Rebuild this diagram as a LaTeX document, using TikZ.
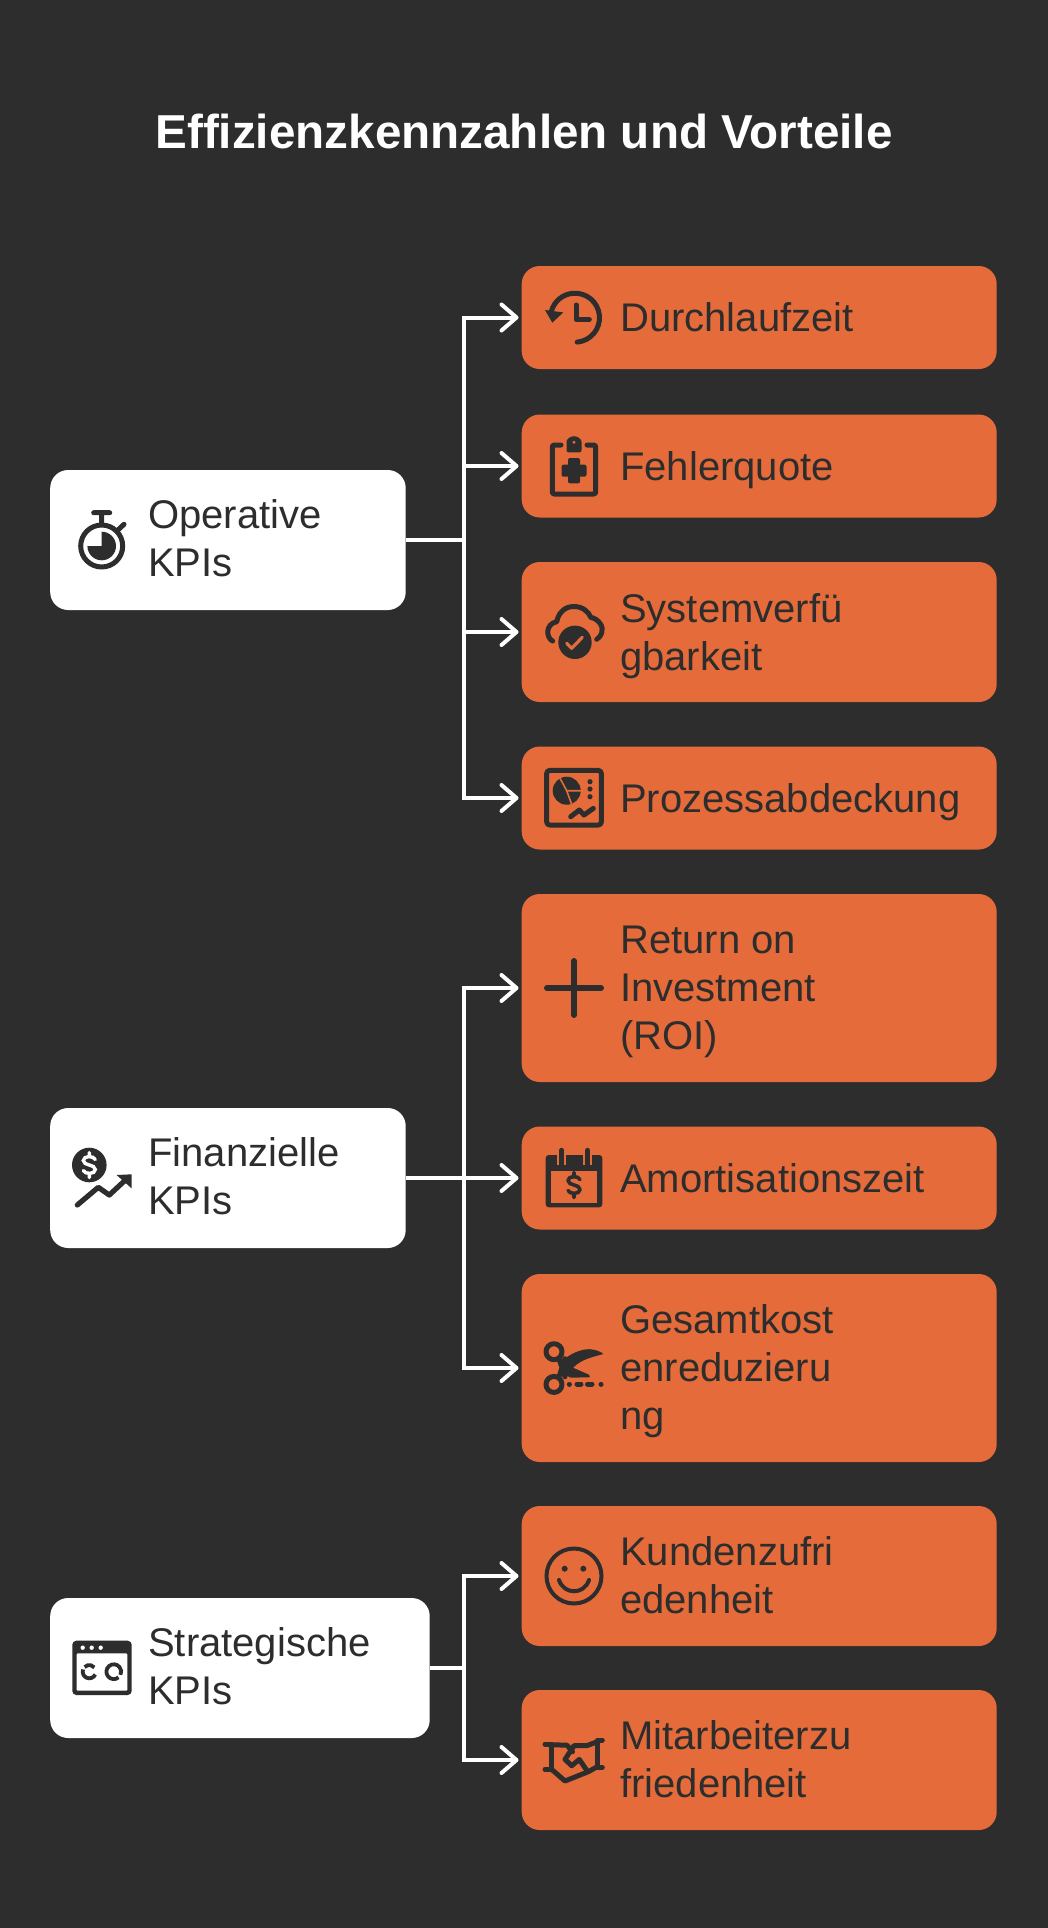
\documentclass[tikz,border=0pt]{standalone}
\usepackage{fontspec}
\setmainfont{Liberation Sans}
\usetikzlibrary{arrows.meta}
\definecolor{bgdark}{HTML}{2D2D2D}
\definecolor{ink}{HTML}{2D2D2D}
\definecolor{kidfill}{HTML}{E56C3A}
\newcommand{\dollarmark}{%
  (6,-5.5) .. controls (4.5,-9.5) and (-6,-9.5) .. (-6,-4.5) .. controls (-6,1) and (6,-1) .. (6,4.5) .. controls (6,9.5) and (-4.5,9.5) .. (-6,5.5)
  (0,-12.5) -- (0,-9.5) (0,9.5) -- (0,12.5)}
\tikzset{
  kid/.style={fill=kidfill, rounded corners=18pt, inner sep=0pt, anchor=west, minimum width=475pt},
  rootbox/.style={fill=white, rounded corners=18pt, inner sep=0pt, anchor=west},
  lab/.style={anchor=west, align=left, inner sep=0pt, text=ink, text depth=0pt, font=\fontsize{40}{48}\selectfont},
  link/.style={draw=white, line width=4pt},
  linkarr/.style={link, -{Straight Barb[length=15pt,width=26pt,round]}, shorten >=3pt},
  ic/.style={draw=ink, line width=5pt, line cap=round, line join=round},
  icon clock/.pic={
    \draw[ic] (0,0) ++(85:24.5) arc (85:-165:24.5);
    \fill[ink] (-30,-7.7) -- (-11.7,-5.3) -- (-22.7,5) -- cycle;
    \draw[ic] (1,-12.7) -- (1,1.7) -- (14.3,1.7);
  },
  icon board/.pic={
    \draw[ic, rounded corners=2pt] (-13,-21.7) -- (-21.7,-21.7) -- (-21.7,27.3) -- (21.7,27.3) -- (21.7,-21.7) -- (13,-21.7);
    \fill[ink, rounded corners=2pt] (-7.5,-14.3) -- (-7.5,-23) arc (180:360:7.5) -- (7.5,-14.3) -- cycle;
    \fill[kidfill] (0,-24.5) circle (1.7);
    \fill[ink, rounded corners=2pt] (-12.5,-2) rectangle (12.5,10);
    \fill[ink, rounded corners=2pt] (-6,-8.7) rectangle (6,16.7);
  },
  icon cloud/.pic={
    \draw[ic] (-21.3,11) .. controls (-28,8) and (-29,-6) .. (-17.3,-8.3) .. controls (-15,-20) and (-6,-24) .. (0,-23.3) .. controls (8,-24) and (15,-18) .. (16.7,-12.7) .. controls (25,-11) and (30,-3) .. (27.7,3) .. controls (26.5,6) and (25,8) .. (22.7,9.3);
    \fill[ink] (1,12.3) circle (16.7);
    \draw[kidfill, line width=3.2pt, line cap=round, line join=round] (-7.3,13.3) -- (-2.3,18.3) -- (8.3,7.3);
  },
  icon pie/.pic={
    \draw[ic, rounded corners=3pt] (-27.3,-27.3) rectangle (27.3,27.3);
    \fill[ink] (-7.3,-7) circle (14);
    \draw[kidfill, line width=1.6pt] (-14,-19.5) -- (-7.3,-7) -- (8,-7) (-7.3,-7) -- (-2,7.5);
    \fill[ink] (16,-16) circle (2.6) (16,-8.7) circle (2.6) (16,-1) circle (2.6);
    \draw[ic] (-3.3,19) -- (5.3,12.3) -- (10,17.3) -- (19.3,10.7);
  },
  icon plus/.pic={
    \draw[ic, line width=6pt] (-27,0) -- (27,0) (0,-27) -- (0,27);
  },
  icon calendar/.pic={
    \fill[ink, rounded corners=3pt] (-28.3,-23.3) rectangle (28.3,29);
    \fill[kidfill] (-23.3,-7.7) rectangle (23.3,24.3);
    \draw[kidfill, line width=8.5pt] (-12.3,-26) -- (-12.3,-13) (13.7,-26) -- (13.7,-13);
    \draw[ic] (-12.3,-28) -- (-12.3,-13) (13.7,-28) -- (13.7,-13);
    \draw[ic, line width=3.6pt, shift={(0,6.7)}] \dollarmark;
  },
  icon scissors/.pic={
    \draw[ic] (-20,-16) circle (8) (-20,16.7) circle (8);
    \draw[ic] (-15,-9) -- (-9,9) (-15,9) -- (-9,-9);
    \fill[ink] (-12,-6) .. controls (-5,-14) and (8,-19) .. (16,-18.5) .. controls (22,-18) and (27,-16) .. (29.3,-13.7) .. controls (20,-11) and (8,-9) .. (-1,0) -- (15,7) -- (16,9.5) -- (-3,10) -- (-12,6) -- cycle;
    \draw[ic, line width=5pt] (-4.7,16.3) -- +(.1,0) (3,16.3) -- (7,16.3) (13.5,16.3) -- (18,16.3) (27,16.3) -- +(.1,0);
  },
  icon smile/.pic={
    \draw[ink, line width=4pt] (0,0) circle (27.5);
    \fill[ink] (-9.3,-7.3) circle (3) (9.3,-7.3) circle (3);
    \draw[ink, line width=4pt, line cap=round] (-15,4) .. controls (-10,19) and (10,19) .. (15,4);
  },
  icon shake/.pic={
    \draw[ic] (-29,-16.7) -- (-22.3,-16.7) -- (-22.3,8.7) -- (-29,8.7);
    \draw[ic] (28.3,-20.7) -- (23.3,-20.7) -- (23.3,6.7) -- (28.3,6.7);
    \draw[ic] (-22.3,8.7) -- (-9,20.3) -- (14.3,11) -- (23.3,6);
    \draw[ic] (-22.3,-16) -- (-7,-15.5) -- (-1.5,-9);
    \draw[ic] (23.3,-19) -- (12.7,-15) -- (0,-15) -- (-9,-1.3) -- (-2.3,5) -- (5.3,-1.3) -- (12.7,9.5);
  },
  icon watch/.pic={
    \draw[ic] (0,0) circle (21);
    \fill[ink] (0,0) -- (0,-14.3) arc (270:540:14.3) -- cycle;
    \draw[ic] (0,-23) -- (0,-33) (-8,-33.3) -- (8,-33.3) (17,-16.7) -- (22.3,-21.7);
  },
  icon money/.pic={
    \fill[ink] (-14,-13.3) circle (17.3);
    \draw[white, line width=3.4pt, line cap=round, shift={(-14,-13.3)}] \dollarmark;
    \draw[ic, line width=5.2pt] (-26,26.7) -- (-5,9) -- (6,16.7) -- (24,0);
    \fill[ink] (13.3,-3.3) -- (28.3,-4) -- (28.3,10) -- cycle;
  },
  icon browser/.pic={
    \fill[ink, rounded corners=4pt] (-29.7,-27) rectangle (29.7,27.3);
    \fill[white, rounded corners=1pt] (-25.3,-14.3) rectangle (25.3,23);
    \fill[white] (-19.3,-20) circle (2.2) (-10.3,-20) circle (2.2) (-1.3,-20) circle (2.2);
    \draw[ink, line width=3.8pt] (-12.7,4) ++(25:6.6) arc (25:200:6.6);
    \draw[ink, line width=3.8pt] (-12.7,4) ++(225:6.6) arc (225:320:6.6);
    \draw[ink, line width=3.8pt] (11.8,4) ++(50:7.4) arc (50:385:7.4);
  },
}
\begin{document}
\begin{tikzpicture}[x=1pt,y=-1pt]
\useasboundingbox[fill=bgdark] (0,0) rectangle (1048,1928);

\node[font=\fontsize{47.6}{58}\selectfont\bfseries, text=white, inner sep=0pt] (title) at (524,131) {Effizienzkennzahlen und Vorteile};

% left column
\node[rootbox, minimum width=355.5, minimum height=140] (op) at (50,540) {};
\node[lab] (optxt) at (148,538) {Operative\\KPIs};
\node[rootbox, minimum width=355.5, minimum height=140] (fin) at (50,1178) {};
\node[lab] (fintxt) at (148,1176) {Finanzielle\\KPIs};
\node[rootbox, minimum width=379.5, minimum height=140] (strat) at (50,1668) {};
\node[lab] (strattxt) at (148,1666) {Strategische\\KPIs};

% right column
\node[kid, minimum height=103] (durch) at (521.5,317.5) {};
\node[lab] (durchtxt) at (620,317.5) {Durchlaufzeit};
\node[kid, minimum height=103] (fehler) at (521.5,466) {};
\node[lab] (fehlertxt) at (620,466) {Fehlerquote};
\node[kid, minimum height=140] (sys) at (521.5,632) {};
\node[lab] (systxt) at (620,632) {Systemverfü\\gbarkeit};
\node[kid, minimum height=103] (proz) at (521.5,798) {};
\node[lab] (proztxt) at (620,798) {Prozessabdeckung};
\node[kid, minimum height=188] (roi) at (521.5,988) {};
\node[lab] (roitxt) at (620,988) {Return on\\Investment\\(ROI)};
\node[kid, minimum height=103] (amort) at (521.5,1178) {};
\node[lab] (amorttxt) at (620,1178) {Amortisationszeit};
\node[kid, minimum height=188] (kost) at (521.5,1368) {};
\node[lab] (kosttxt) at (620,1367) {Gesamtkost\\enreduzieru\\ng};
\node[kid, minimum height=140] (kunde) at (521.5,1576) {};
\node[lab] (kundetxt) at (620,1575) {Kundenzufri\\edenheit};
\node[kid, minimum height=140] (mit) at (521.5,1760) {};
\node[lab] (mittxt) at (620,1759) {Mitarbeiterzu\\friedenheit};

% icons
\pic at (575,317.7) {icon clock};
\pic at (574,466.7) {icon board};
\pic at (574,630) {icon cloud};
\pic at (574,797.7) {icon pie};
\pic at (574,988) {icon plus};
\pic at (574,1178.3) {icon calendar};
\pic at (574,1367.7) {icon scissors};
\pic at (574,1576) {icon smile};
\pic at (574,1760.7) {icon shake};
\pic at (101.7,546) {icon watch};
\pic at (103.3,1178.3) {icon money};
\pic at (102,1667.7) {icon browser};

% connectors
\coordinate (optr) at (464,540);
\coordinate (fintr) at (464,1178);
\coordinate (strattr) at (464,1668);
\draw[link] (op.east) -- (optr);
\draw[link] (fin.east) -- (fintr);
\draw[link] (strat.east) -- (strattr);
\foreach \kid in {durch,fehler,sys,proz}{
  \draw[linkarr] (optr) |- (\kid.west);
}
\foreach \kid in {roi,amort,kost}{
  \draw[linkarr] (fintr) |- (\kid.west);
}
\foreach \kid in {kunde,mit}{
  \draw[linkarr] (strattr) |- (\kid.west);
}
\end{tikzpicture}
\end{document}
